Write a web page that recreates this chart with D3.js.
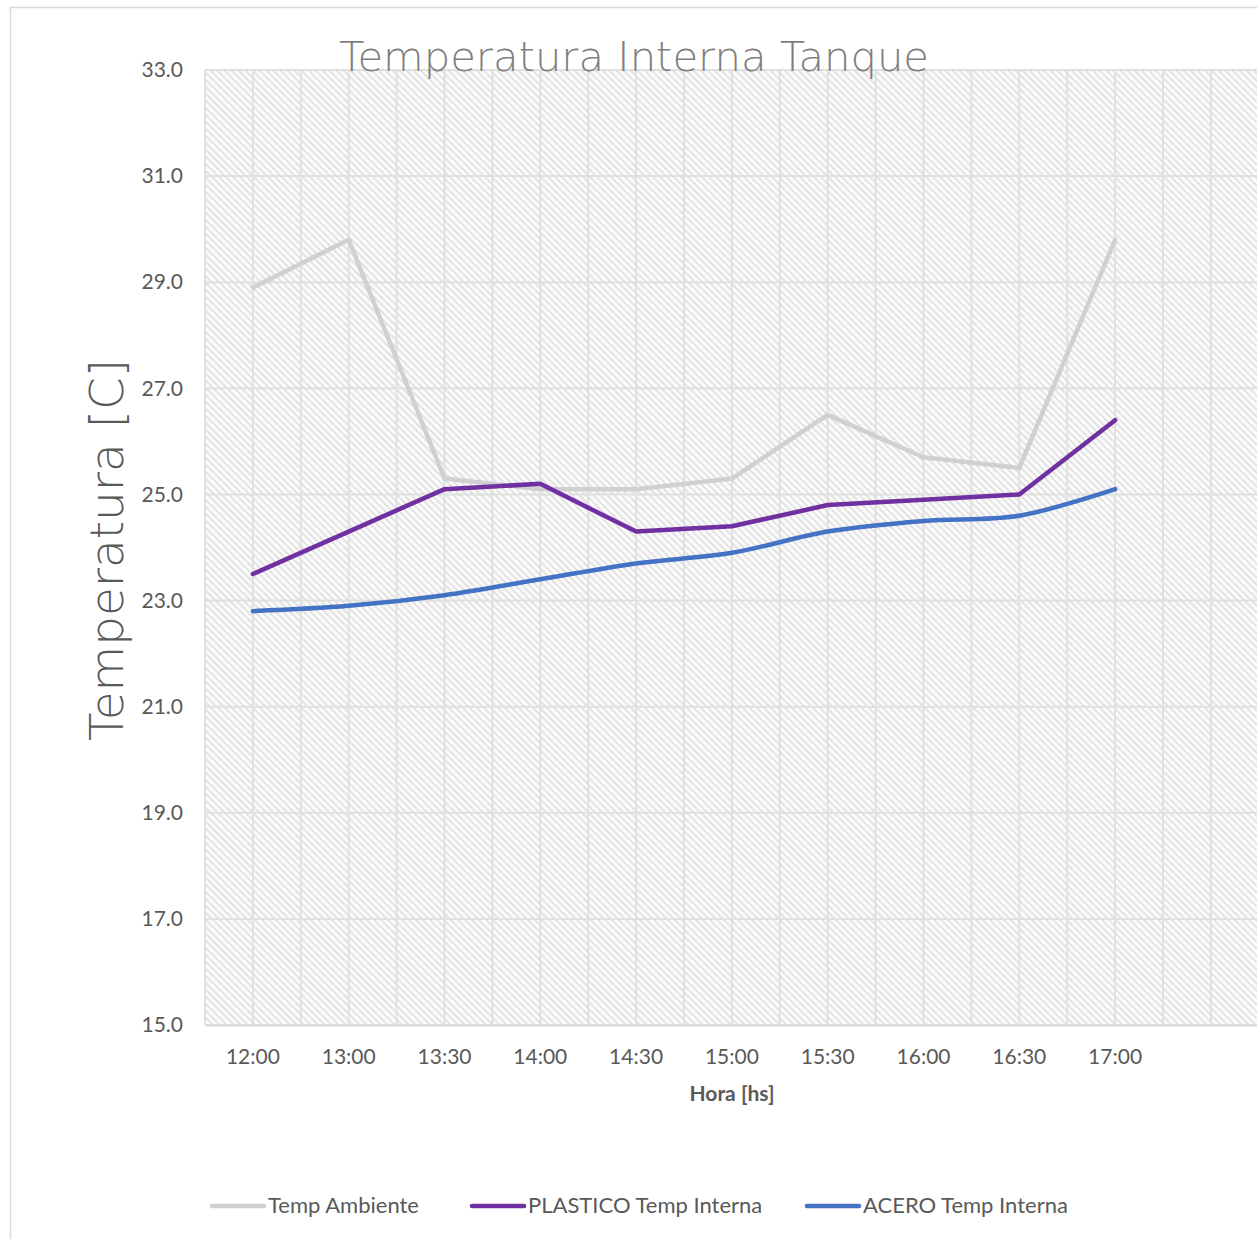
<!DOCTYPE html>
<html>
<head>
<meta charset="utf-8">
<script src="https://cdn.jsdelivr.net/npm/d3@7"></script>
<style>
html,body{margin:0;padding:0;background:#fff;overflow:hidden;}
svg{display:block;}
</style>
</head>
<body>
<script>
const categories = ["12:00","13:00","13:30","14:00","14:30","15:00","15:30","16:00","16:30","17:00",""];
const tempAmbiente = [28.9, 29.8, 25.3, 25.1, 25.1, 25.3, 26.5, 25.7, 25.5, 29.8];
const plasticoInterna = [23.5, 24.3, 25.1, 25.2, 24.3, 24.4, 24.8, 24.9, 25.0, 26.4];
const aceroInterna = [22.8, 22.9, 23.1, 23.4, 23.7, 23.9, 24.3, 24.5, 24.6, 25.1];
const yTicks = [15, 17, 19, 21, 23, 25, 27, 29, 31, 33];
const seriesNames = ["Temp Ambiente", "PLASTICO Temp Interna", "ACERO Temp Interna"];
const seriesColors = ["#d0d0d0", "#7030a0", "#4472c4"];

const W = 1257, H = 1239;
const svg = d3.select("body").append("svg").attr("width", W).attr("height", H);

const defs = svg.append("defs");
const pat = defs.append("pattern").attr("id","hatch").attr("patternUnits","userSpaceOnUse")
  .attr("width",7).attr("height",7);
pat.append("rect").attr("width",7).attr("height",7).attr("fill","#fbfbfb");
pat.append("path").attr("d","M-2,-2 L9,9 M-2,5 L2,9 M5,-2 L9,2")
  .attr("stroke","#e3e3e3").attr("stroke-width",2);

// chart border
svg.append("rect").attr("x",10.5).attr("y",7.5).attr("width",W+20).attr("height",H+20)
  .attr("fill","#fff").attr("stroke","#d9d9d9").attr("stroke-width",1.5);

const pLeft = 205, pTop = 70, pBottom = 1025, band = 95.8;
const x = d3.scaleBand().domain(categories).range([pLeft, pLeft + band*categories.length]).padding(0);
const y = d3.scaleLinear().domain([15, 33]).range([pBottom, pTop]);
const plotRight = pLeft + band*categories.length;

svg.append("rect").attr("x",pLeft).attr("y",pTop).attr("width",plotRight-pLeft).attr("height",pBottom-pTop)
  .attr("fill","url(#hatch)");

// vertical gridlines (at category centers and boundaries)
const g = svg.append("g");
const vLines = [];
categories.forEach(c => { vLines.push(x(c)); vLines.push(x(c) + x.bandwidth()/2); });
g.selectAll("line.v").data(vLines).join("line")
  .attr("x1",d=>d).attr("x2",d=>d).attr("y1",pTop).attr("y2",pBottom)
  .attr("stroke","#e0e0e0").attr("stroke-width",2);
// horizontal gridlines
g.selectAll("line.h").data(yTicks).join("line")
  .attr("x1",pLeft).attr("x2",plotRight).attr("y1",d=>y(d)).attr("y2",d=>y(d))
  .attr("stroke","#e0e0e0").attr("stroke-width",2);

// axes
const yAxis = d3.axisLeft(y).tickValues(yTicks).tickFormat(d3.format(".1f")).tickSize(0).tickPadding(22);
const ya = svg.append("g").attr("transform",`translate(${pLeft},0)`).call(yAxis);
ya.select(".domain").remove();
ya.selectAll("text").attr("font-family","Lato, 'Open Sans', sans-serif").attr("font-size",21).attr("fill","#595959");

const xAxis = d3.axisBottom(x).tickSize(0).tickPadding(24);
const xa = svg.append("g").attr("transform",`translate(0,${pBottom})`).call(xAxis);
xa.select(".domain").attr("stroke","#d9d9d9").attr("stroke-width",2);
xa.selectAll("text").attr("font-family","Lato, 'Open Sans', sans-serif").attr("font-size",21).attr("fill","#595959");

// lines
const data = [tempAmbiente, plasticoInterna, aceroInterna];
const curves = [d3.curveLinear, d3.curveLinear, d3.curveCatmullRom.alpha(0.5)];
data.forEach((vals, i) => {
  const line = d3.line().x((d,j)=>x(categories[j]) + x.bandwidth()/2).y(d=>y(d)).curve(curves[i]);
  svg.append("path").datum(vals).attr("d", line).attr("fill","none")
    .attr("stroke", seriesColors[i]).attr("stroke-width",4.5)
    .attr("stroke-linejoin","round").attr("stroke-linecap","round");
});

// title
svg.append("text").attr("x",634).attr("y",71).attr("text-anchor","middle")
  .attr("font-family","'DejaVu Sans', sans-serif").attr("font-weight",200).attr("font-size",40)
  .attr("fill","#7f7f7f").attr("textLength",590).attr("lengthAdjust","spacingAndGlyphs")
  .text("Temperatura Interna Tanque");

// y axis title
svg.append("text").attr("transform","translate(123,550) rotate(-90)").attr("text-anchor","middle")
  .attr("font-family","'DejaVu Sans', sans-serif").attr("font-weight",200).attr("font-size",46)
  .attr("fill","#595959").attr("textLength",382).attr("lengthAdjust","spacingAndGlyphs")
  .text("Temperatura [C]");

// x axis title
svg.append("text").attr("x",732).attr("y",1101).attr("text-anchor","middle")
  .attr("font-family","Lato, 'Open Sans', sans-serif").attr("font-weight",700).attr("font-size",21)
  .attr("fill","#595959").text("Hora [hs]");

// legend
const legendX = [210, 470, 805];
const lg = svg.append("g");
seriesNames.forEach((n,i) => {
  lg.append("line").attr("x1",legendX[i]+2).attr("x2",legendX[i]+54).attr("y1",1206).attr("y2",1206)
    .attr("stroke",seriesColors[i]).attr("stroke-width",4.5).attr("stroke-linecap","round");
  lg.append("text").attr("x",legendX[i]+58).attr("y",1213)
    .attr("font-family","Lato, 'Open Sans', sans-serif").attr("font-size",22).attr("fill","#595959")
    .text(n);
});
</script>
</body>
</html>
